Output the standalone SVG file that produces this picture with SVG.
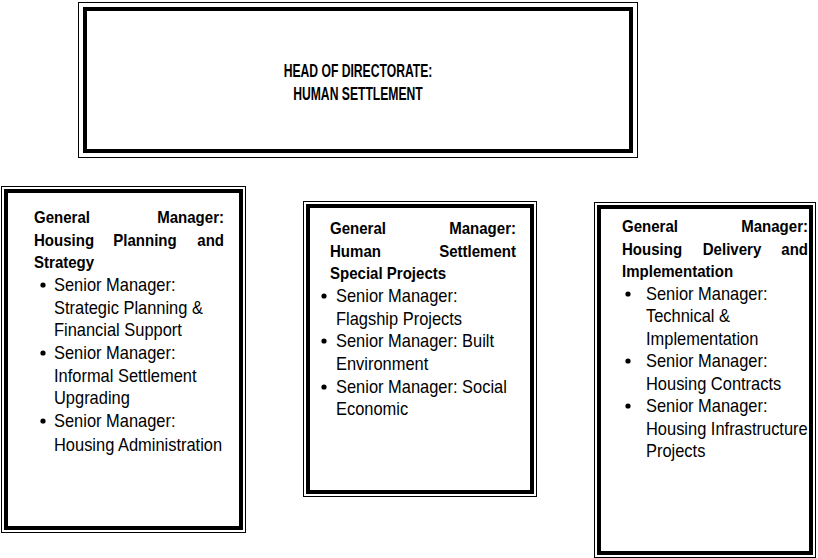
<svg xmlns="http://www.w3.org/2000/svg" width="818" height="558" viewBox="0 0 818 558">
<style>
.thin{fill:none;stroke:#000;stroke-width:1}
.thick{fill:none;stroke:#000;stroke-width:4}
text{font-family:"Liberation Sans",Arial,sans-serif;font-size:17.5px;fill:#000}
.b{font-weight:bold;font-size:16px}
.h{font-size:19px;font-weight:bold;text-anchor:middle}
.e{text-anchor:end}
.m{text-anchor:middle}
</style>
<rect width="818" height="558" fill="#fff"/>
<g id="head">
<rect class="thin" x="78.5" y="2.5" width="559" height="155"/>
<rect class="thick" x="85" y="9" width="546" height="142"/>
<text class="h" transform="translate(358,77) scale(.64,1)">HEAD OF DIRECTORATE:</text>
<text class="h" transform="translate(358,100) scale(.64,1)">HUMAN SETTLEMENT</text>
</g>
<g id="gm-planning">
<rect class="thin" x="1.5" y="186.5" width="244" height="346"/>
<rect class="thick" x="6" y="191" width="235" height="337"/>
<text class="b" transform="translate(34,223) scale(.94,1)">General</text>
<text class="b e" transform="translate(224,223) scale(.94,1)">Manager:</text>
<text class="b" transform="translate(34,246) scale(.94,1)">Housing</text>
<text class="b m" transform="translate(145,246) scale(.94,1)">Planning</text>
<text class="b e" transform="translate(224,246) scale(.94,1)">and</text>
<text class="b" transform="translate(34,268) scale(.94,1)">Strategy</text>
<circle cx="43" cy="285" r="2.6"/>
<text transform="translate(54,291) scale(.94,1)">Senior Manager:</text>
<text transform="translate(54,314) scale(.94,1)">Strategic Planning &amp;</text>
<text transform="translate(54,336) scale(.94,1)">Financial Support</text>
<circle cx="43" cy="353" r="2.6"/>
<text transform="translate(54,359) scale(.94,1)">Senior Manager:</text>
<text transform="translate(54,382) scale(.94,1)">Informal Settlement</text>
<text transform="translate(54,404) scale(.94,1)">Upgrading</text>
<circle cx="43" cy="421" r="2.6"/>
<text transform="translate(54,427) scale(.94,1)">Senior Manager:</text>
<text transform="translate(54,451) scale(.94,1)">Housing Administration</text>
</g>
<g id="gm-special">
<rect class="thin" x="303.5" y="201.5" width="233" height="295"/>
<rect class="thick" x="308" y="206" width="224" height="286"/>
<text class="b" transform="translate(330,234) scale(.94,1)">General</text>
<text class="b e" transform="translate(516,234) scale(.94,1)">Manager:</text>
<text class="b" transform="translate(330,257) scale(.94,1)">Human</text>
<text class="b e" transform="translate(516,257) scale(.94,1)">Settlement</text>
<text class="b" transform="translate(330,279) scale(.94,1)">Special Projects</text>
<circle cx="324" cy="296" r="2.6"/>
<text transform="translate(336,302) scale(.94,1)">Senior Manager:</text>
<text transform="translate(336,325) scale(.94,1)">Flagship Projects</text>
<circle cx="324" cy="341" r="2.6"/>
<text transform="translate(336,347) scale(.94,1)">Senior Manager: Built</text>
<text transform="translate(336,370) scale(.94,1)">Environment</text>
<circle cx="324" cy="387" r="2.6"/>
<text transform="translate(336,393) scale(.94,1)">Senior Manager: Social</text>
<text transform="translate(336,415) scale(.94,1)">Economic</text>
</g>
<g id="gm-delivery">
<rect class="thin" x="594.5" y="202.5" width="221" height="355"/>
<rect class="thick" x="599" y="207" width="212" height="346"/>
<text class="b" transform="translate(622,232) scale(.94,1)">General</text>
<text class="b e" transform="translate(808,232) scale(.94,1)">Manager:</text>
<text class="b" transform="translate(622,255) scale(.94,1)">Housing</text>
<text class="b m" transform="translate(732,255) scale(.94,1)">Delivery</text>
<text class="b e" transform="translate(808,255) scale(.94,1)">and</text>
<text class="b" transform="translate(622,277) scale(.94,1)">Implementation</text>
<circle cx="628" cy="294" r="2.6"/>
<text transform="translate(646,300) scale(.94,1)">Senior Manager:</text>
<text transform="translate(646,322) scale(.94,1)">Technical &amp;</text>
<text transform="translate(646,345) scale(.94,1)">Implementation</text>
<circle cx="628" cy="361" r="2.6"/>
<text transform="translate(646,367) scale(.94,1)">Senior Manager:</text>
<text transform="translate(646,390) scale(.94,1)">Housing Contracts</text>
<circle cx="628" cy="406" r="2.6"/>
<text transform="translate(646,412) scale(.94,1)">Senior Manager:</text>
<text transform="translate(646,435) scale(.94,1)">Housing Infrastructure</text>
<text transform="translate(646,457) scale(.94,1)">Projects</text>
</g>
<g id="connectors"></g>
</svg>
